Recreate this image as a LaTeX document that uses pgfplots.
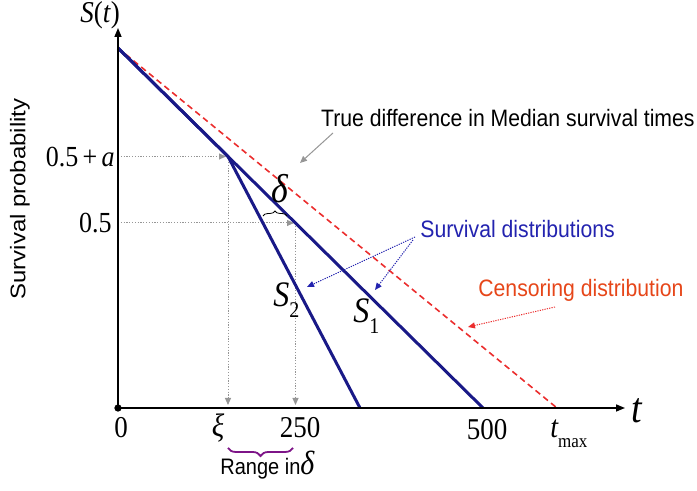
\documentclass[border=0pt]{standalone}
\usepackage{pgfplots}
\pgfplotsset{compat=1.18}
\usetikzlibrary{arrows.meta,decorations.pathreplacing}
\usepackage{fontspec}
\setmainfont{Liberation Sans}
\newfontfamily\serif{Liberation Serif}
\definecolor{navy}{RGB}{25,25,135}
\definecolor{sdblue}{RGB}{35,35,175}
\definecolor{cred}{RGB}{235,45,45}
\definecolor{corange}{RGB}{230,70,25}
\definecolor{guide}{RGB}{150,150,150}
\definecolor{brpurple}{RGB}{125,20,135}
\newcommand{\vs}[1]{\scalebox{1}[1.12]{#1}}
\newcommand{\fs}[1]{\fontsize{#1}{#1}\selectfont}
\begin{document}
\begin{tikzpicture}
\begin{axis}[hide axis, scale only axis, width=348.5pt, height=245.5pt,
  xmin=-118, xmax=579, ymin=-83, ymax=408, clip=false]
\coordinate (BL) at (axis cs:-118,-83);
\coordinate (TR) at (axis cs:579,408);
% guide lines
\addplot[guide, line width=0.5pt, dash pattern=on 0.6pt off 0.8pt, -{Triangle[length=3.5pt,width=3pt]}] coordinates {(0,251.5) (108,251.5)};
\addplot[guide, line width=0.5pt, dash pattern=on 0.6pt off 0.8pt, -{Triangle[length=3.5pt,width=3pt]}] coordinates {(0,185) (176,185)};
\addplot[guide, line width=0.5pt, dash pattern=on 0.6pt off 0.8pt, -{Triangle[length=3.5pt,width=3pt]}] coordinates {(110,251.5) (110,3)};
\addplot[guide, line width=0.5pt, dash pattern=on 0.6pt off 0.8pt, -{Triangle[length=3.5pt,width=3pt]}] coordinates {(177.5,185) (177.5,3)};
% censoring distribution
\addplot[cred, line width=0.8pt, dash pattern=on 3pt off 2pt] coordinates {(0,360) (439,0)};
% survival distributions
\addplot[navy, line width=1.5pt] coordinates {(0,360) (365,0)};
\addplot[navy, line width=1.5pt] coordinates {(0,360) (110,251.5) (242,0)};
% axes
\addplot[black, line width=0.75pt, -{Triangle[length=4.5pt,width=3.5pt]}] coordinates {(0,0) (0,380)};
\addplot[black, line width=0.75pt, -{Triangle[length=4.5pt,width=3.5pt]}] coordinates {(0,0) (507,0)};
\addplot[black, only marks, mark=*, mark size=1.6pt] coordinates {(0,0)};
% annotation arrows
\addplot[guide, line width=0.5pt, -{Triangle[length=3.5pt,width=3pt]}] coordinates {(215,275) (182,245)};
\addplot[sdblue, line width=0.5pt, dash pattern=on 0.6pt off 0.6pt, -{Triangle[length=3.5pt,width=3pt]}] coordinates {(297,171) (189,121)};
\addplot[sdblue, line width=0.5pt, dash pattern=on 0.6pt off 0.6pt, -{Triangle[length=3.5pt,width=3pt]}] coordinates {(295,168) (257,118)};
\addplot[cred, line width=0.5pt, dash pattern=on 0.6pt off 0.6pt, -{Triangle[length=3.5pt,width=3pt]}] coordinates {(437,101) (350,81)};
% braces
\draw[black, line width=0.4pt, decorate, decoration={brace, amplitude=2.5pt}] (axis cs:145,192) -- (axis cs:169,192);
\draw[brpurple, line width=0.9pt, decorate, decoration={brace, mirror, amplitude=4pt}] (axis cs:110,-40) -- (axis cs:175,-40);
% texts
\node[anchor=base west, inner sep=0pt] at (axis cs:-38,385) {\vs{\serif\fs{13.5pt}\itshape S\/\upshape(\itshape t\/\upshape)}};
\node[rotate=90, inner sep=0pt] at (axis cs:-98,209) {\scalebox{1.13}[1]{\fs{10.6pt}Survival probability}};
\node[anchor=base east, inner sep=0pt] at (axis cs:-3,241) {\vs{\serif\fs{13pt}0.5\,+\,\itshape a}};
\node[anchor=base east, inner sep=0pt] at (axis cs:-6,175) {\vs{\serif\fs{13pt}0.5}};
\node[anchor=base, inner sep=0pt] at (axis cs:3,-30) {\vs{\serif\fs{13.5pt}0}};
\node[anchor=base, inner sep=0pt] at (axis cs:100,-29) {\vs{\serif\fs{14.5pt}\itshape ξ}};
\node[anchor=base, inner sep=0pt] at (axis cs:182,-30) {\vs{\serif\fs{13.5pt}250}};
\node[anchor=base, inner sep=0pt] at (axis cs:369,-32) {\vs{\serif\fs{13.5pt}500}};
\node[anchor=base west, inner sep=0pt] at (axis cs:432,-30) {\vs{\serif\fs{14pt}\itshape t\upshape\raisebox{-0.3em}{\fs{8.5pt}max}}};
\node[anchor=base west, inner sep=0pt] at (axis cs:513,-15) {\vs{\serif\fs{19pt}\itshape t}};
\node[anchor=base west, inner sep=0pt] at (axis cs:153,205) {\vs{\serif\fs{18pt}\itshape δ}};
\node[anchor=base west, inner sep=0pt] at (axis cs:155,101) {\vs{\serif\fs{16pt}\itshape S\upshape\raisebox{-0.3em}{\fs{10pt}2}}};
\node[anchor=base west, inner sep=0pt] at (axis cs:235,85) {\vs{\serif\fs{16pt}\itshape S\upshape\raisebox{-0.3em}{\fs{10pt}1}}};
\node[anchor=base east, inner sep=0pt] at (axis cs:577,281) {\vs{\fs{10.6pt}True difference in Median survival times}};
\node[anchor=base west, inner sep=0pt, text=sdblue] at (axis cs:302,170) {\vs{\fs{10.6pt}Survival distributions}};
\node[anchor=base west, inner sep=0pt, text=corange] at (axis cs:360,111) {\vs{\fs{10.6pt}Censoring distribution}};
\node[anchor=base west, inner sep=0pt] at (axis cs:102,-67) {\vs{\fs{10pt}Range in{\serif\fs{15pt}\itshape δ}}};
\end{axis}
\pgfresetboundingbox
\useasboundingbox (BL) rectangle (TR);
\end{tikzpicture}
\end{document}
